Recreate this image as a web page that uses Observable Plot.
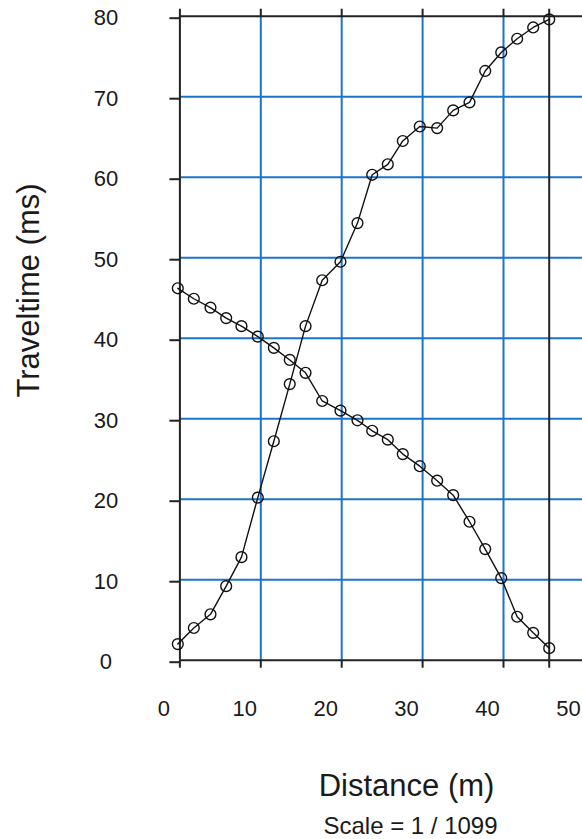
<!DOCTYPE html>
<html><head><meta charset="utf-8">
<script src="https://cdn.jsdelivr.net/npm/d3@7"></script>
<script src="https://cdn.jsdelivr.net/npm/@observablehq/plot@0.6"></script>
<style>html,body{margin:0;padding:0;background:#fff;} svg{display:block;}</style>
</head><body><div id="chart"></div>
<script>
// Geophone distances (m), shared by both shots
const distances = [-0.26, 1.72, 3.78, 5.72, 7.61, 9.63, 11.61, 13.58, 15.53, 17.59, 19.85, 21.95,
  23.77, 25.70, 27.55, 29.65, 31.80, 33.78, 35.80, 37.74, 39.72, 41.69, 43.67, 45.65];
// Forward shot travel times (ms)
const forwardTimes = [2.0, 4.0, 5.7, 9.2, 12.8, 20.2, 27.2, 34.3, 41.5, 47.2, 49.5, 54.3,
  60.3, 61.6, 64.5, 66.3, 66.1, 68.3, 69.3, 73.2, 75.5, 77.2, 78.6, 79.6];
// Reverse shot travel times (ms)
const reverseTimes = [46.2, 44.9, 43.8, 42.5, 41.5, 40.2, 38.8, 37.3, 35.7, 32.2, 31.0, 29.8,
  28.5, 27.4, 25.6, 24.1, 22.3, 20.5, 17.2, 13.8, 10.2, 5.4, 3.4, 1.5];

const xTickLabels = [0, 10, 20, 30, 40, 50];
const xTickMarks = [0, 10, 20, 30, 40, 45.65];
const xGrid = [10, 20, 30, 40];
const xFrame = [0, 45.65];
const yTicks = [0, 10, 20, 30, 40, 50, 60, 70, 80];
const yGrid = [10, 20, 30, 40, 50, 60, 70];
const yFrame = [0, 80];

const xTitle = "Distance (m)";
const yTitle = "Traveltime (ms)";
const caption = "Scale = 1 / 1099";

const forward = distances.map((d, i) => ({d, t: forwardTimes[i]}));
const reverse = distances.map((d, i) => ({d, t: reverseTimes[i]}));

const blue = "#1874CD";
const ink = "#1a1a1a";
const font = "'Liberation Sans', Arial, sans-serif";

const chart = Plot.plot({
  width: 582,
  height: 839,
  marginLeft: 179.4,
  marginRight: 0,
  marginTop: 15.7,
  marginBottom: 179.3,
  style: {fontFamily: font, color: ink, background: "#fff"},
  x: {domain: [0, 50], range: [179.4, 179.4 + 50 * 8.09], label: null},
  y: {domain: [0, 80], range: [659.7, 15.7], label: null},
  marks: [
    Plot.ruleX(xGrid, {stroke: blue, strokeWidth: 2}),
    Plot.ruleY(yGrid, {stroke: blue, strokeWidth: 2}),
    Plot.ruleX(xFrame, {stroke: "#222", strokeWidth: 2}),
    Plot.ruleY(yFrame, {stroke: "#222", strokeWidth: 2}),
    Plot.axisX({anchor: "bottom", ticks: xTickMarks, tickSize: 8, tickFormat: () => "", stroke: "#222", strokeWidth: 2, label: null}),
    Plot.axisX({anchor: "top", ticks: xTickMarks, tickSize: 8, tickFormat: () => "", stroke: "#222", strokeWidth: 2, label: null}),
    Plot.axisX({anchor: "bottom", ticks: xTickLabels, tickSize: 0, tickPadding: 40, dx: -16, fontSize: 22, fill: ink, label: null}),
    Plot.axisY({anchor: "left", ticks: yTicks, tickSize: 10, tickPadding: 64, textAnchor: "middle", dy: 2, fontSize: 22, fill: ink, stroke: "#222", strokeWidth: 2, label: null}),
    Plot.line(forward, {x: "d", y: "t", stroke: "#111", strokeWidth: 1.4}),
    Plot.line(reverse, {x: "d", y: "t", stroke: "#111", strokeWidth: 1.4}),
    Plot.dot(forward, {x: "d", y: "t", r: 5.4, stroke: "#111", fill: "none", strokeWidth: 1.4}),
    Plot.dot(reverse, {x: "d", y: "t", r: 5.4, stroke: "#111", fill: "none", strokeWidth: 1.4}),
    Plot.text([yTitle], {frameAnchor: "top-left", dx: 29 - 179.4, dy: 290 - 15.7, rotate: -90, fontSize: 31, textAnchor: "middle", lineAnchor: "middle", fill: ink}),
    Plot.text([xTitle], {frameAnchor: "bottom-left", dx: 406 - 179.4, dy: 795 - 659.7, fontSize: 31, textAnchor: "middle", lineAnchor: "bottom", fill: ink}),
    Plot.text([caption], {frameAnchor: "bottom-left", dx: 410 - 179.4, dy: 833 - 659.7, fontSize: 24, textAnchor: "middle", lineAnchor: "bottom", fill: ink})
  ]
});
document.getElementById("chart").appendChild(chart);
</script>
</body></html>
